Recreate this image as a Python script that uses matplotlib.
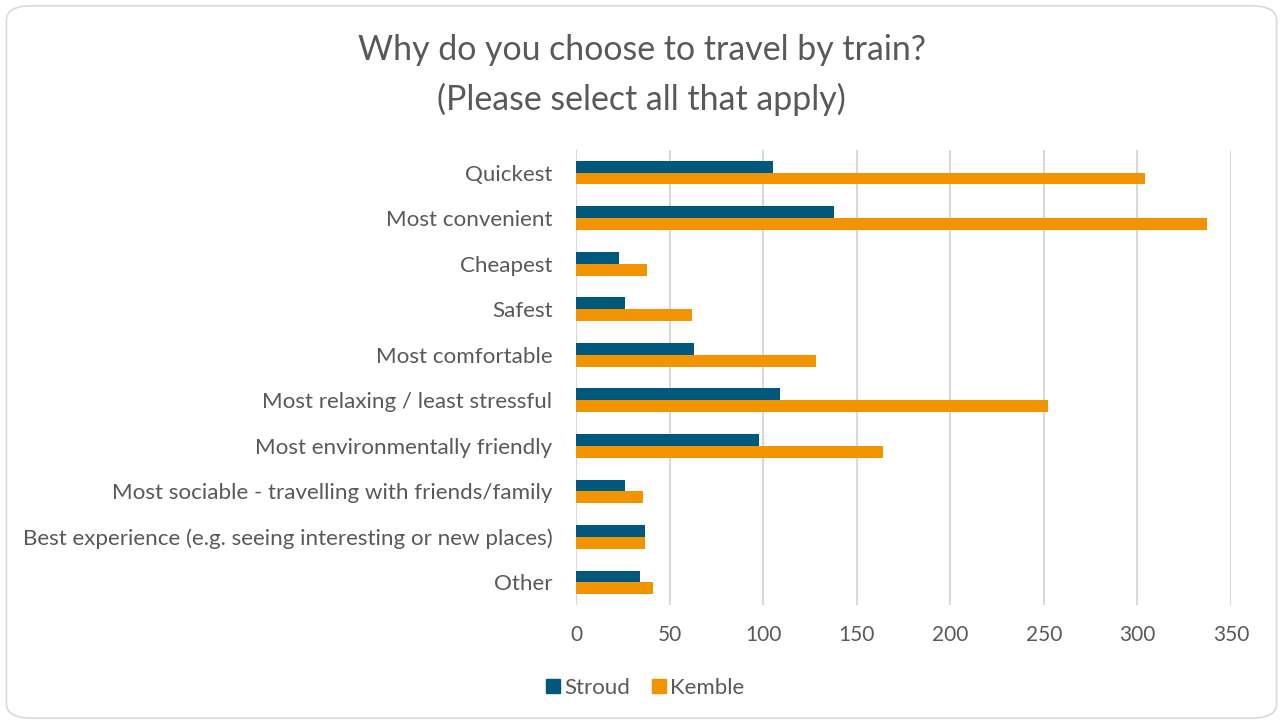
import numpy as np
import matplotlib
matplotlib.use('Agg')
import matplotlib.pyplot as plt
from matplotlib.patches import FancyBboxPatch, Patch

REASONS = [
    "Quickest",
    "Most convenient",
    "Cheapest",
    "Safest",
    "Most comfortable",
    "Most relaxing / least stressful",
    "Most environmentally friendly",
    "Most sociable - travelling with friends/family",
    "Best experience (e.g. seeing interesting or new places)",
    "Other",
]
STROUD = [105, 138, 23, 26, 63, 109, 98, 26, 37, 34]
KEMBLE = [304, 337, 38, 62, 128, 252, 164, 36, 37, 41]
X_TICKS = [0, 50, 100, 150, 200, 250, 300, 350]

BLUE = "#00587c"
ORANGE = "#f29400"
TEXT = "#595959"
GRID = "#d9d9d9"

plt.rcParams['font.family'] = ['Lato', 'DejaVu Sans']

fig = plt.figure(figsize=(12.83, 7.24), dpi=100)
ax = fig.add_axes([0.449, 0.164, 0.5105, 0.629])

y = np.arange(len(REASONS))
h = 0.26
ax.barh(y - h / 2, STROUD, height=h, color=BLUE, label="Stroud", zorder=3)
ax.barh(y + h / 2, KEMBLE, height=h, color=ORANGE, label="Kemble", zorder=3)

ax.set_ylim(len(REASONS) - 0.5, -0.5)
ax.set_xlim(0, 350)
ax.set_xticks(X_TICKS)
ax.set_yticks(y)
ax.set_yticklabels(REASONS)
ax.tick_params(axis='both', length=0, labelsize=15, colors=TEXT)
ax.tick_params(axis='y', labelsize=16.1, pad=17)
ax.tick_params(axis='x', pad=14)
ax.grid(axis='x', color=GRID, linewidth=1.5, zorder=0)
for s in ax.spines.values():
    s.set_visible(False)
ax.axvline(0, color=GRID, linewidth=1.5, zorder=1)

# two-line title
fig.text(0.5, 0.931, "Why do you choose to travel by train?",
         ha='center', va='center', fontsize=24.4, color=TEXT)
fig.text(0.5, 0.863, "(Please select all that apply)",
         ha='center', va='center', fontsize=24.4, color=TEXT)

handles = [Patch(color=BLUE, label="Stroud"), Patch(color=ORANGE, label="Kemble")]
fig.legend(handles=handles, loc='center', bbox_to_anchor=(0.503, 0.05), ncol=2,
           frameon=False, fontsize=16, labelcolor=TEXT, handlelength=0.6,
           handleheight=0.6, handletextpad=0.2, columnspacing=1.0)

border = FancyBboxPatch((0.005, 0.008), 0.99, 0.984, boxstyle="round,pad=0,rounding_size=0.02",
                        transform=fig.transFigure, fill=False, edgecolor=GRID, linewidth=1.2)
fig.patches.append(border)

fig.savefig("out.png", dpi=100)
